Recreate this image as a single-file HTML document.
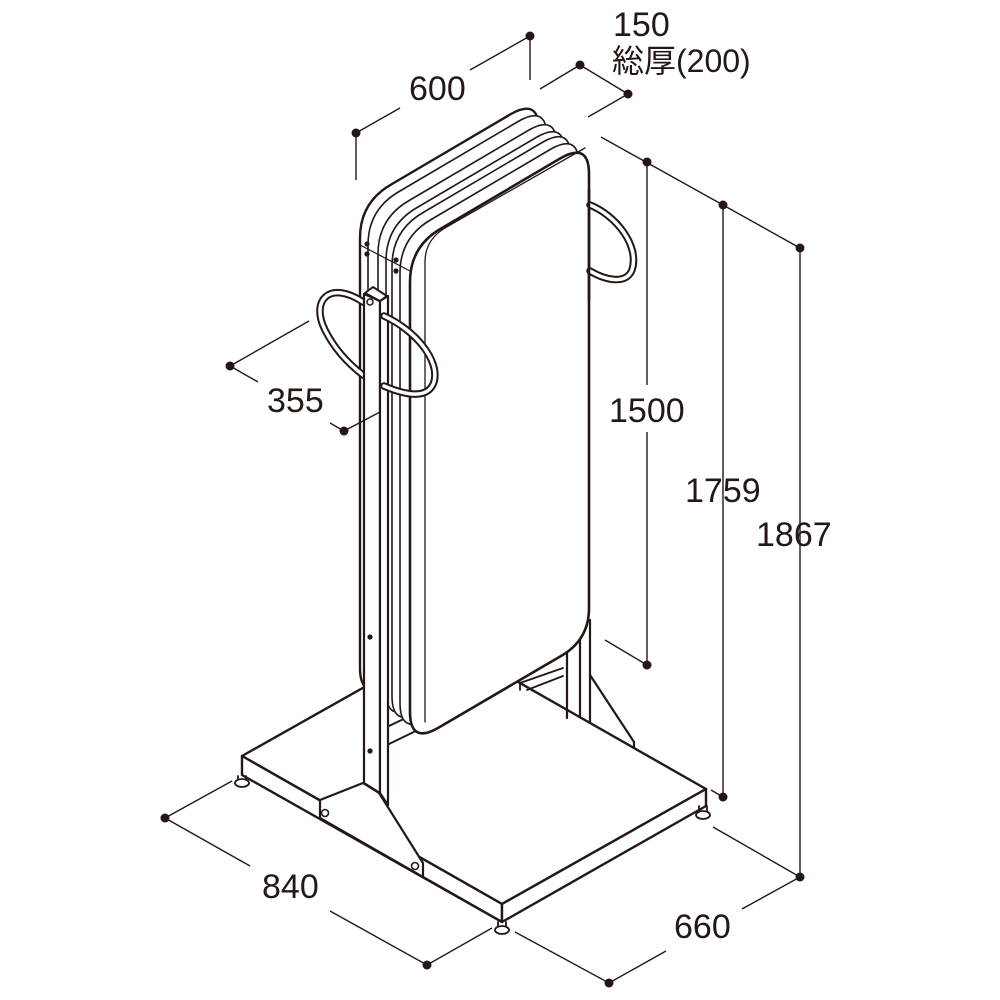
<!DOCTYPE html>
<html><head><meta charset="utf-8"><style>
html,body{margin:0;padding:0;background:#fff;}
svg{display:block}
text{font-family:"Liberation Sans","Noto Sans CJK JP",sans-serif;font-size:34px;fill:#231815}
</style></head><body>
<svg width="1000" height="1000" viewBox="0 0 1000 1000" xmlns="http://www.w3.org/2000/svg">
<defs>
<path id="rim" d="M410,282 L410,712 Q410,744 438,728 L561,656 Q589,640 589,608 L589,174 Q589,142 561,158 L442,228 Q410,246 410,282 Z"/>
</defs>
<g stroke="#231815" stroke-linejoin="round" stroke-linecap="round" fill="none">
<polygon points="242,756 446,641 706,789 502,904" fill="#fff" stroke-width="2.4"/>
<polygon points="242,756 502,904 502,922 242,775" fill="#fff" stroke-width="2.4"/>
<polygon points="502,904 706,789 706,806 502,922" fill="#fff" stroke-width="2.4"/>
<g fill="#fff" stroke-width="1.8">
<path d="M238,776 v5 M246,776 v5"/><ellipse cx="242" cy="783" rx="7" ry="4"/>
<path d="M498,922 v5 M506,922 v5"/><ellipse cx="502" cy="930" rx="7" ry="4"/>
<path d="M699,806 v6 M707,806 v6"/><ellipse cx="703" cy="815" rx="7" ry="4"/>
</g>
<path d="M567,640 V718 M580,640 V716 M590,620 V722" stroke-width="2.2"/>
<path d="M590,675 L634,742 V748" stroke-width="2.2"/>
<path d="M520,683 L563,668 M527,690 L563,676 M520,683 V690" stroke-width="1.8"/>
<path d="M389,726 L414,714 M389,744 L422,728" stroke-width="2"/>
<g fill="#fff">
<use href="#rim" transform="translate(-50,-44)" stroke-width="2.4"/>
<use href="#rim" transform="translate(-42,-37)" stroke-width="1.6"/>
<use href="#rim" transform="translate(-32,-28)" stroke-width="1.6"/>
<use href="#rim" transform="translate(-24,-21)" stroke-width="1.6"/>
<use href="#rim" transform="translate(-18,-16)" stroke-width="1.6"/>
<use href="#rim" transform="translate(-10,-9)" stroke-width="1.6"/>
<use href="#rim" stroke-width="2.6"/>
</g>
<path d="M425,722 L425,262 Q425,240 445,228 L585,148" stroke-width="1.3"/>
<path d="M360,245 L410,271" stroke-width="1.2"/>
<g fill="#231815" stroke="none">
<circle cx="367" cy="244" r="2.6"/><circle cx="367" cy="254" r="2.6"/>
<circle cx="396" cy="260" r="2.6"/><circle cx="396" cy="271" r="2.6"/>
</g>
<path d="M590,205 C615,215 640,245 632,270 C626,285 605,280 590,271" stroke-width="7.5"/>
<path d="M590,205 C615,215 640,245 632,270 C626,285 605,280 590,271" stroke="#fff" stroke-width="3.5"/>
<path d="M589,190 V300" stroke-width="2.6"/>
<path d="M363,302 C330,280 310,300 325,330 C335,350 350,365 363,375" stroke-width="7.5"/>
<path d="M363,302 C330,280 310,300 325,330 C335,350 350,365 363,375" stroke="#fff" stroke-width="3.5"/>
<polygon points="364,294 380,301 380,793 364,783" fill="#fff" stroke-width="2.2"/>
<polygon points="380,301 388,296 388,805 380,793" fill="#fff" stroke-width="2.2"/>
<polygon points="365,293 373,287 387,296 380,301" fill="#fff" stroke-width="2"/>
<circle cx="370" cy="302" r="3" stroke-width="1.5"/>
<circle cx="370" cy="637" r="2.6" fill="#231815" stroke="none"/>
<circle cx="370" cy="751" r="2.6" fill="#231815" stroke="none"/>
<path d="M384,316 C415,330 440,360 434,382 C428,400 405,395 384,386" stroke-width="7.5"/>
<path d="M384,316 C415,330 440,360 434,382 C428,400 405,395 384,386" stroke="#fff" stroke-width="3.5"/>
<polygon points="320,800 363,783 379,793 423,863 423,877 320,818" fill="#fff" stroke-width="2.2"/>
<circle cx="325" cy="813" r="3.5" stroke-width="1.6"/>
<circle cx="415" cy="866" r="3.5" stroke-width="1.6"/>
<path d="M423,877 L502,922" stroke-width="2.4"/>
</g>
<g stroke="#231815" stroke-width="1.4" fill="none">
<path d="M356,133 V180 M356,133 L400,108 M470,70 L530,36 V80"/>
<path d="M540,89 L580,65 L628,94 L588,117"/>
<path d="M601,137 L800,248 M647,162 V385 M647,432 V665 L605,640 M723,205 V797 L711,790 M800,248 V877"/>
<path d="M713,827 L800,877 L742,909 M666,951 L609,983 L515,932"/>
<path d="M165,818 L232,781 M165,818 L250,866 M330,911 L427,965 L492,928"/>
<path d="M230,366 L309,321 M230,366 L258,382 M344,431 L330,423 M344,431 L380,412"/>
</g>
<g fill="#231815">
<circle cx="356" cy="133" r="4.5"/><circle cx="530" cy="36" r="4.5"/>
<circle cx="580" cy="65" r="4.5"/><circle cx="628" cy="94" r="4.5"/>
<circle cx="647" cy="162" r="4.5"/><circle cx="723" cy="205" r="4.5"/><circle cx="800" cy="248" r="4.5"/>
<circle cx="647" cy="665" r="4.5"/><circle cx="723" cy="797" r="4.5"/><circle cx="800" cy="877" r="4.5"/>
<circle cx="609" cy="983" r="4.5"/><circle cx="427" cy="965" r="4.5"/><circle cx="165" cy="818" r="4.5"/>
<circle cx="230" cy="366" r="4.5"/><circle cx="344" cy="431" r="4.5"/>
</g>
<text x="409" y="100">600</text>
<text x="613" y="36">150</text>
<text x="612" y="72" style="font-size:32px">総厚(200)</text>
<text x="267" y="412">355</text>
<text x="609" y="422">1500</text>
<text x="685" y="502">1759</text>
<text x="756" y="546">1867</text>
<text x="262" y="898">840</text>
<text x="674" y="938">660</text>
</svg>
</body></html>
